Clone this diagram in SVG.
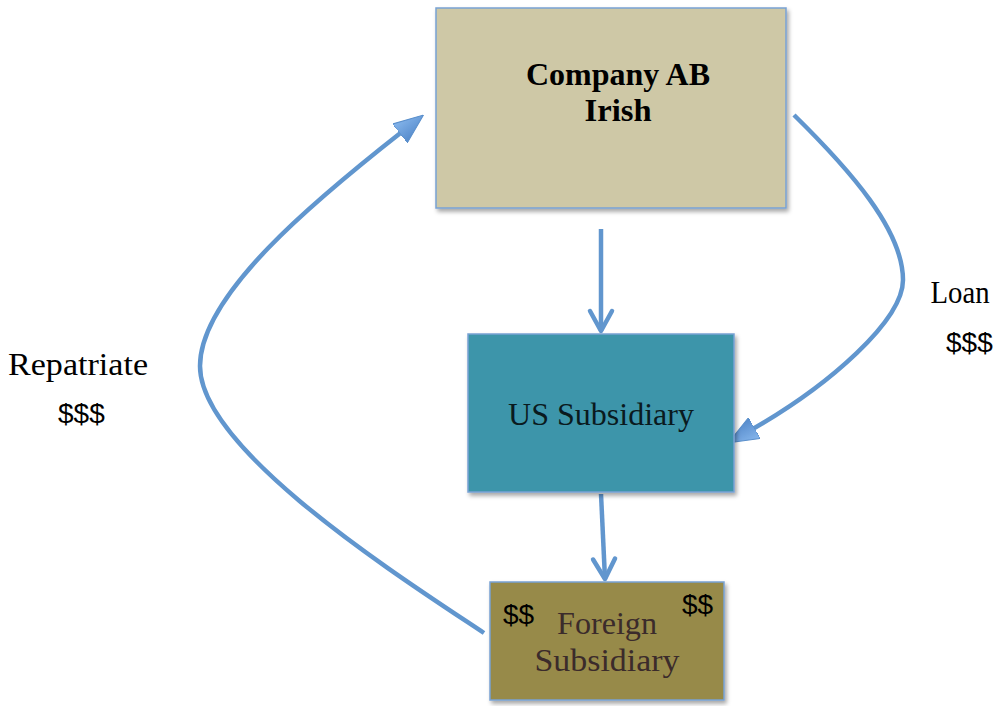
<svg xmlns="http://www.w3.org/2000/svg" width="997" height="706" viewBox="0 0 997 706">
<style>
.box{stroke:#78A2D4;stroke-width:1.5;filter:url(#sh)}
.serif{font-family:"Liberation Serif","DejaVu Serif",serif;font-size:32px;text-anchor:middle}
.sans{font-family:"Liberation Sans","DejaVu Sans",sans-serif;font-size:28px}
.conn{fill:none;stroke:#6196CE;stroke-width:4.5;stroke-linecap:butt}
</style>
<defs>
<filter id="sh" x="-10%" y="-10%" width="125%" height="130%">
<feDropShadow dx="2" dy="3" stdDeviation="2" flood-color="#000" flood-opacity="0.35"/>
</filter>
<linearGradient id="ag" x1="0" y1="0" x2="0" y2="1">
<stop offset="0" stop-color="#86B6EC"/>
<stop offset="1" stop-color="#558ACB"/>
</linearGradient>
<marker id="tri" viewBox="0 0 30 24" markerUnits="userSpaceOnUse" markerWidth="30" markerHeight="24" refX="4" refY="12" orient="auto">
<path d="M0,0 L30,12 L0,24 z" fill="url(#ag)" stroke="#5A8FCB" stroke-width="1"/>
</marker>
<marker id="chev" viewBox="0 0 24 26" markerUnits="userSpaceOnUse" markerWidth="24" markerHeight="26" refX="21" refY="13" orient="auto" overflow="visible">
<path d="M1,2 L21,13 L1,24" fill="none" stroke="#6196CE" stroke-width="4.5" stroke-linejoin="round" stroke-linecap="round"/>
</marker>
</defs>

<g id="connectors">
<path class="conn" d="M601,229 L601,331" marker-end="url(#chev)"/>
<path class="conn" d="M601,494 L605,579" marker-end="url(#chev)"/>
<path class="conn" d="M794,115 C850,170 903,230 903,280 C903,320 830,385 751,430" marker-end="url(#tri)"/>
<path class="conn" d="M484,633 C400,577 200,450 200,366 C200,295 315,200 403,131" marker-end="url(#tri)"/>
</g>

<g id="company-ab">
<rect class="box" x="436" y="8" width="350" height="200" fill="#CEC8A6"/>
<text class="serif" x="618" y="85" font-weight="bold" textLength="184" lengthAdjust="spacingAndGlyphs">Company AB</text>
<text class="serif" x="618" y="121" font-weight="bold" textLength="67" lengthAdjust="spacingAndGlyphs">Irish</text>
</g>

<g id="us-subsidiary">
<rect class="box" x="468" y="334" width="266" height="158" fill="#3C95AA"/>
<text class="serif" x="601" y="425" fill="#0A1A1E" textLength="186" lengthAdjust="spacingAndGlyphs">US Subsidiary</text>
</g>

<g id="foreign-subsidiary">
<rect class="box" x="490" y="582" width="234" height="118" fill="#978A4A"/>
<text class="serif" x="607" y="634" fill="#3B2B2B" textLength="100" lengthAdjust="spacingAndGlyphs">Foreign</text>
<text class="serif" x="607" y="671" fill="#3B2B2B" textLength="145" lengthAdjust="spacingAndGlyphs">Subsidiary</text>
<text class="sans" x="503" y="624">$$</text>
<text class="sans" x="682" y="614">$$</text>
</g>

<g id="labels">
<text class="serif" x="78" y="375" textLength="140" lengthAdjust="spacingAndGlyphs">Repatriate</text>
<text class="sans" x="58" y="423">$$$</text>
<text class="serif" x="960" y="303" textLength="59" lengthAdjust="spacingAndGlyphs">Loan</text>
<text class="sans" x="946" y="352">$$$</text>
</g>
</svg>
